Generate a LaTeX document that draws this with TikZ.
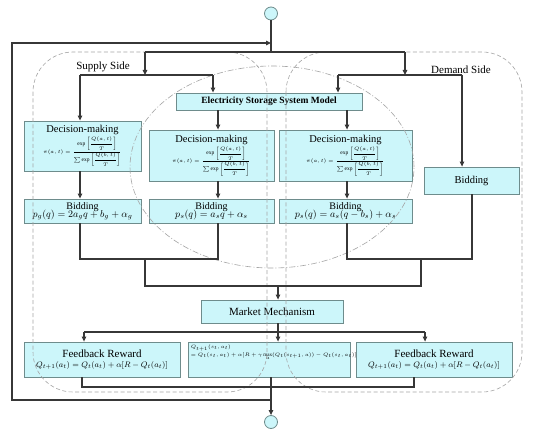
\documentclass[tikz,border=0pt]{standalone}
\usepackage{amsmath}
\usepackage{fontspec}
\setmainfont{Liberation Serif}
\usetikzlibrary{arrows.meta}
\definecolor{boxfill}{RGB}{204,246,250}
\definecolor{boxline}{RGB}{110,140,140}
\definecolor{linec}{RGB}{55,55,55}
\definecolor{dashc}{RGB}{165,165,165}
\begin{document}
\begin{tikzpicture}[x=1pt,y=-1pt,
  bx/.style={draw=boxline, fill=boxfill, line width=0.8pt, inner sep=1pt, align=center},
  circ/.style={circle, draw=boxline, fill=boxfill, line width=0.8pt, minimum size=13pt, inner sep=0pt},
  ln/.style={draw=linec, line width=1.1pt},
  arr/.style={ln, -{Triangle[length=5pt,width=4.5pt]}},
  lbl/.style={font=\fontsize{11}{12}\selectfont},
  reg/.style={draw=dashc, line width=0.6pt, dash pattern=on 4pt off 2.5pt, rounded corners=40pt}
]
\fill[white] (0,0) rectangle (537,430);
\useasboundingbox (0,0) rectangle (537,430);

% circles
\node[circ] (c1) at (271,13.5) {};
\node[circ] (c2) at (271,422) {};

% boxes
\node[bx, minimum width=186pt, minimum height=17pt, font=\bfseries\fontsize{9.5}{10}\selectfont] (stor) at (269,101.5) {Electricity Storage System Model};

\newcommand{\decform}{{\fontsize{5.5}{6}\selectfont $\pi(a,t)=\dfrac{\exp\left[\dfrac{Q(a,t)}{T}\right]}{\textstyle\sum\exp\left[\dfrac{Q(b,t)}{T}\right]}$}}

\node[bx, minimum width=117pt, minimum height=50pt, font=\fontsize{10.5}{11}\selectfont] (decL) at (82.5,146) {Decision-making\\[1pt]\decform};
\node[bx, minimum width=125pt, minimum height=51pt, font=\fontsize{10.5}{11}\selectfont] (decM) at (211.5,155.5) {Decision-making\\[1pt]\decform};
\node[bx, minimum width=133pt, minimum height=51pt, font=\fontsize{10.5}{11}\selectfont] (decR) at (345.5,155.5) {Decision-making\\[1pt]\decform};

\node[bx, minimum width=95pt, minimum height=27pt, font=\fontsize{10.5}{11}\selectfont] (bidD) at (471.5,180.5) {Bidding};

\node[bx, minimum width=117pt, minimum height=24pt, font=\fontsize{10}{10}\selectfont] (bidL) at (82.5,211) {Bidding\\[-2pt]$p_g(q)=2a_g q+b_g+\alpha_g$};
\node[bx, minimum width=125pt, minimum height=24pt, font=\fontsize{10}{10}\selectfont] (bidM) at (211.5,211) {Bidding\\[-2pt]$p_s(q)=a_s q+\alpha_s$};
\node[bx, minimum width=133pt, minimum height=24pt, font=\fontsize{10}{10}\selectfont] (bidR) at (345.5,211) {Bidding\\[-2pt]$p_s(q)=a_s(q-b_s)+\alpha_s$};

\node[bx, minimum width=142pt, minimum height=23pt, font=\fontsize{11}{12}\selectfont] (market) at (272,311.5) {Market Mechanism};

\node[bx, minimum width=156pt, minimum height=35pt, font=\fontsize{11}{11}\selectfont] (fbL) at (102,359.5) {Feedback Reward\\[-1pt]{\fontsize{8.5}{9}\selectfont $Q_{t+1}(a_t)=Q_t(a_t)+\alpha[R-Q_t(a_t)]$}};
\node[bx, minimum width=162pt, minimum height=35pt] (qM) at (269,359.5) {};
\node[anchor=north west, inner sep=0pt, align=left, font=\fontsize{5.1}{7.5}\selectfont] (qMt) at ([xshift=3pt,yshift=-3pt]qM.north west) {$Q_{t+1}(s_t,a_t)$\\$=Q_t(s_t,a_t)+\alpha[R+\gamma\max\limits_{a}(Q_t(s_{t+1},a))-Q_t(s_t,a_t)]$};
\node[bx, minimum width=156pt, minimum height=35pt, font=\fontsize{11}{11}\selectfont] (fbR) at (434,359.5) {Feedback Reward\\[-1pt]{\fontsize{8.5}{9}\selectfont $Q_{t+1}(a_t)=Q_t(a_t)+\alpha[R-Q_t(a_t)]$}};

% region labels
\node[lbl] (sup) at (103,67) {Supply Side};
\node[lbl] (dem) at (461,70) {Demand Side};

% dashed regions (drawn over boxes, as in the reference)
\draw[reg] (33,52) rectangle (267,392);
\draw[reg] (286,52) rectangle (522,392);
\draw[draw=dashc, line width=0.6pt, dash pattern=on 6pt off 2pt on 1pt off 2pt] (272,167) ellipse [x radius=142pt, y radius=101pt];

% coordinates
\coordinate (s0) at (271,52);
\coordinate (sL) at (145,52);
\coordinate (sR) at (405,52);
\coordinate (tL) at (145,75);
\coordinate (tR) at (405,75);
\coordinate (uL1) at (80,75);
\coordinate (uL2) at (213,75);
\coordinate (uR1) at (338,75);
\coordinate (uR2) at (462,75);
\coordinate (xM) at (218,0);
\coordinate (xR) at (347,0);
\coordinate (xD) at (472,0);
\coordinate (jL) at (145,259);
\coordinate (jR) at (421,259);
\coordinate (kL) at (145,286);
\coordinate (kR) at (421,286);
\coordinate (xK) at (278,0);
\coordinate (mL) at (84,332);
\coordinate (mR) at (425,332);
\coordinate (bL) at (82,0);
\coordinate (bR) at (414,387);
\coordinate (lp) at (271,400);
\coordinate (lpA) at (12,400);
\coordinate (lpB) at (12,43);

% connectors
\draw[ln] (c1) -- (s0);
\draw[ln] (sL) -- (sR);
\draw[arr] (sL) -- (tL);
\draw[arr] (sR) -- (tR);
\draw[ln] (uL1) -- (uL2);
\draw[ln] (uR1) -- (uR2);
\draw[arr] (uL1) -- (uL1 |- decL.north);
\draw[arr] (uL2) -- (uL2 |- stor.north);
\draw[arr] (uR1) -- (uR1 |- stor.north);
\draw[arr] (uR2) -- (uR2 |- bidD.north);
\draw[arr] (stor.south -| xM) -- (decM.north -| xM);
\draw[arr] (stor.south -| xR) -- (decR.north -| xR);
\draw[arr] (decL.south -| uL1) -- (bidL.north -| uL1);
\draw[arr] (decM.south -| xM) -- (bidM.north -| xM);
\draw[arr] (decR.south -| xR) -- (bidR.north -| xR);
\draw[ln] (bidL.south -| uL1) |- (jL) -| (bidM.south -| xM);
\draw[ln] (bidR.south -| xR) |- (jR) -| (bidD.south -| xD);
\draw[ln] (jL) -- (kL) -- (kR) -- (jR);
\draw[arr] (kL -| xK) -- (market.north -| xK);
\draw[arr] (market.south -| xK) -- (qM.north -| xK);
\draw[ln] (mL) -- (mR);
\draw[arr] (mL) -- (mL |- fbL.north);
\draw[arr] (mR) -- (mR |- fbR.north);
\draw[ln] (fbL.south -| bL) |- (bR) -- (fbR.south -| bR);
\draw[arr] (qM.south -| c2) -- (c2.north);
\draw[arr] (lp) -- (lpA) -- (lpB) -- (lpB -| c1);
\end{tikzpicture}
\end{document}
